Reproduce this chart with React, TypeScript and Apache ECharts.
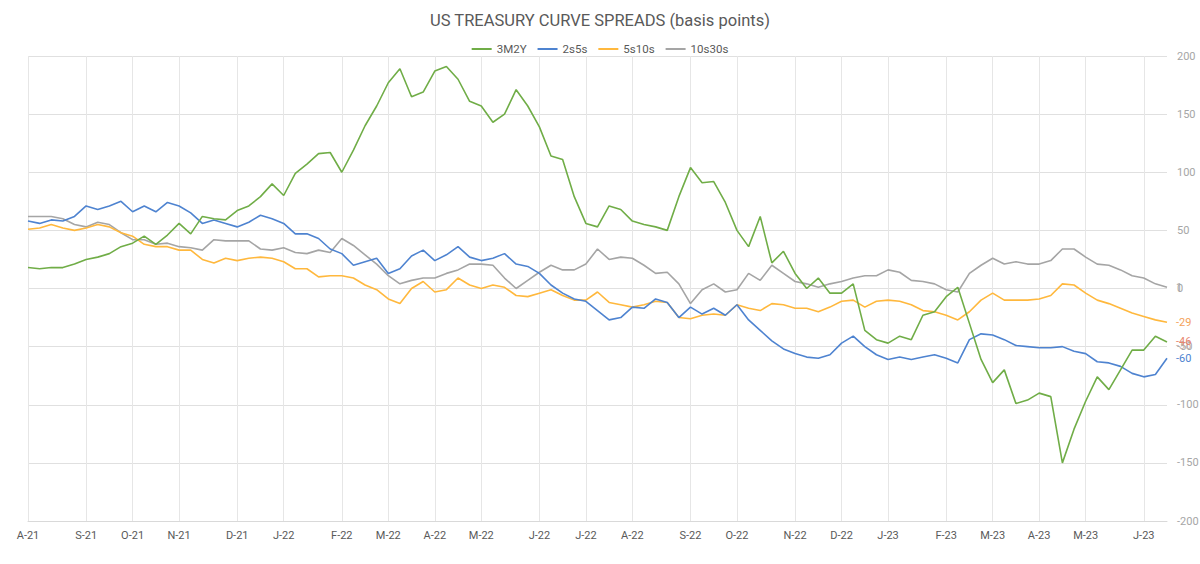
import React, { useEffect, useRef } from "react";
import * as echarts from "echarts";

// Weekly observations starting Monday 2021-08-02
const START_YEAR = 2021;
const START_MONTH = 7; // August (0-based)
const START_DAY = 2;

const seriesNames = ["3M2Y", "2s5s", "5s10s", "10s30s"];

const spread3M2Y = [
  18, 17, 18, 18, 21, 25, 27, 30, 36, 39,
  45, 38, 46, 56, 47, 62, 60, 59, 67, 71,
  79, 90, 80, 99, 107, 116, 117, 100, 119, 140,
  157, 177, 189, 165, 169, 187, 191, 180, 161, 157,
  143, 150, 171, 157, 139, 114, 111, 79, 56, 53,
  71, 68, 58, 55, 53, 50, 79, 104, 91, 92,
  74, 50, 36, 62, 22, 32, 13, 0, 9, -4,
  -4, 4, -36, -44, -47, -41, -44, -23, -20, -7,
  1, -30, -61, -81, -70, -99, -96, -90, -93, -150,
  -121, -97, -76, -87, -70, -53, -53, -41, -46,
];

const spread2s5s = [
  58, 56, 59, 58, 62, 71, 68, 71, 75, 66,
  71, 66, 74, 71, 65, 56, 59, 56, 53, 57,
  63, 60, 56, 47, 47, 43, 34, 30, 20, 23,
  26, 13, 17, 28, 33, 24, 29, 36, 27, 24,
  26, 30, 21, 19, 13, 3, -4, -9, -11, -19,
  -27, -25, -16, -17, -9, -12, -25, -16, -22, -17,
  -23, -14, -27, -36, -45, -52, -56, -59, -60, -57,
  -47, -41, -50, -57, -61, -59, -61, -59, -57, -60,
  -64, -44, -39, -40, -44, -49, -50, -51, -51, -50,
  -54, -56, -63, -64, -67, -73, -76, -74, -60,
];

const spread5s10s = [
  51, 52, 55, 52, 50, 52, 55, 53, 48, 45,
  38, 36, 36, 33, 33, 25, 22, 26, 24, 26,
  27, 26, 23, 17, 17, 10, 11, 11, 9, 3,
  -1, -9, -13, 0, 6, -3, -1, 9, 3, 0,
  3, 1, -6, -7, -4, -1, -6, -10, -10, -3,
  -12, -14, -16, -14, -11, -12, -25, -26, -23, -22,
  -23, -14, -17, -19, -13, -14, -17, -17, -20, -16,
  -11, -10, -16, -11, -10, -11, -14, -19, -20, -23,
  -27, -20, -10, -4, -10, -10, -10, -9, -6, 4,
  3, -4, -10, -13, -17, -21, -24, -27, -29,
];

const spread10s30s = [
  62, 62, 62, 60, 55, 53, 57, 55, 48, 42,
  42, 38, 39, 36, 35, 33, 42, 41, 41, 41,
  34, 33, 35, 31, 30, 33, 31, 43, 37, 29,
  21, 11, 4, 7, 9, 9, 13, 16, 21, 21,
  20, 9, 0, 7, 14, 20, 16, 16, 21, 34,
  25, 27, 26, 20, 13, 14, 4, -13, -1, 4,
  -3, -1, 13, 7, 20, 13, 6, 4, 1, 4,
  6, 9, 11, 11, 16, 14, 7, 6, 4, -1,
  -3, 13, 20, 26, 21, 23, 21, 21, 24, 34,
  34, 27, 21, 20, 16, 11, 9, 4, 1,
];

// Overlapped end label seen beneath the 3M2Y label
const ghostEndLabel = -38;

const lineColors = ["#70AD47", "#4E83D0", "#FFB83D", "#A5A5A5"];
const endLabelColors = ["#E8856E", "#4E83D0", "#F4A25A", "#A5A5A5"];

const yTicks = { min: -200, max: 200, interval: 50 };

const MONTH_LETTERS = "JFMAMJJASOND";

const dates: string[] = spread3M2Y.map((_, i) => {
  const d = new Date(Date.UTC(START_YEAR, START_MONTH, START_DAY + 7 * i));
  return d.toISOString().slice(0, 10);
});

const isMonthStart = (i: number) =>
  i === 0 || dates[i].slice(5, 7) !== dates[i - 1].slice(5, 7);

export default function App() {
  const ref = useRef<HTMLDivElement>(null);

  useEffect(() => {
    document.body.style.margin = "0";
    if (!ref.current) return;
    const chart = echarts.init(ref.current, undefined, { renderer: "svg" });
    const allData = [spread3M2Y, spread2s5s, spread5s10s, spread10s30s];
    const last = dates.length - 1;

    const series: any[] = allData.map((data, k) => ({
      name: seriesNames[k],
      type: "line",
      data,
      symbol: "none",
      smooth: false,
      lineStyle: { width: 1.6, color: lineColors[k] },
      itemStyle: { color: lineColors[k] },
      endLabel: {
        show: true,
        formatter: (p: any) => String(Math.round(p.value)),
        color: endLabelColors[k],
        fontSize: 11,
        distance: 9,
      },
      z: 10 - k,
    }));

    series[0].markPoint = {
      symbol: "circle",
      symbolSize: 0,
      silent: true,
      data: [{ coord: [dates[last], spread3M2Y[last]], value: ghostEndLabel }],
      label: {
        show: true,
        position: "right",
        distance: 9,
        offset: [0, 4],
        formatter: "{c}",
        color: "#C9B3AC",
        fontSize: 11,
      },
      z: 1,
    };

    chart.setOption({
      animation: false,
      backgroundColor: "#ffffff",
      textStyle: { fontFamily: "Roboto, 'Noto Sans', sans-serif" },
      title: {
        text: "US TREASURY CURVE SPREADS (basis points)",
        left: "center",
        top: 7,
        textStyle: { fontSize: 16.5, fontWeight: "normal", color: "#595959" },
      },
      legend: {
        data: seriesNames,
        top: 38,
        left: "center",
        icon: "rect",
        itemWidth: 20,
        itemHeight: 2,
        itemGap: 11,
        textStyle: { fontSize: 11.5, color: "#595959" },
      },
      grid: {
        left: 28,
        right: 33,
        top: 56,
        bottom: 43,
        containLabel: false,
        outerBoundsMode: "none",
      },
      xAxis: {
        type: "category",
        data: dates,
        boundaryGap: false,
        axisLine: { onZero: false, lineStyle: { color: "#d9d9d9" } },
        axisTick: { show: false },
        axisLabel: {
          interval: (i: number) => isMonthStart(i),
          formatter: (v: string) =>
            MONTH_LETTERS[parseInt(v.slice(5, 7), 10) - 1] + "-" + v.slice(2, 4),
          color: "#595959",
          fontSize: 11,
          margin: 9,
        },
        splitLine: {
          show: true,
          interval: (i: number) => isMonthStart(i),
          lineStyle: { color: "#e6e6e6", width: 1 },
        },
      },
      yAxis: {
        type: "value",
        position: "right",
        min: yTicks.min,
        max: yTicks.max,
        interval: yTicks.interval,
        axisLine: { show: false },
        axisTick: { show: false },
        axisLabel: { color: "#a6a6a6", fontSize: 11, margin: 10 },
        splitLine: { lineStyle: { color: "#e0e0e0", width: 1 } },
      },
      series,
    });

    return () => chart.dispose();
  }, []);

  return <div ref={ref} style={{ width: 1200, height: 564 }} />;
}
